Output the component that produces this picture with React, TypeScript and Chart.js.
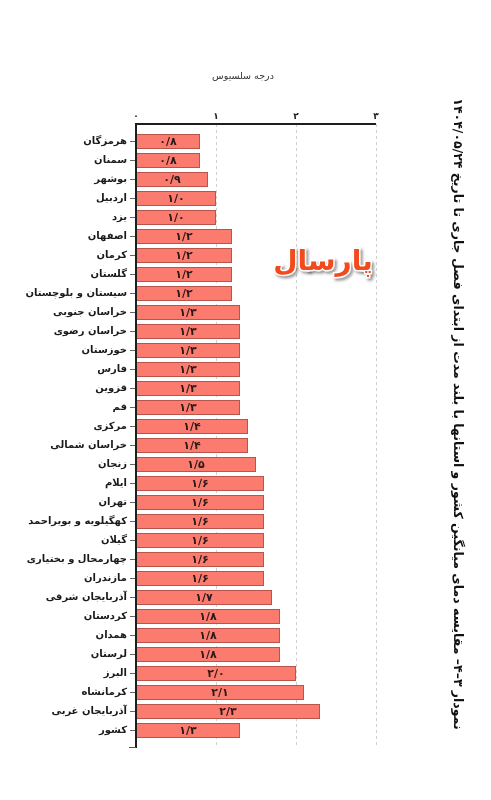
import React, { useEffect, useRef } from "react";
import { Chart, registerables } from "chart.js";
Chart.register(...registerables);

const provinces = [
  "هرمزگان", "سمنان", "بوشهر", "اردبیل", "یزد", "اصفهان", "کرمان", "گلستان",
  "سیستان و بلوچستان", "خراسان جنوبی", "خراسان رضوی", "خوزستان", "فارس", "قزوین", "قم",
  "مرکزی", "خراسان شمالی", "زنجان", "ایلام", "تهران", "کهگیلویه و بویراحمد", "گیلان",
  "چهارمحال و بختیاری", "مازندران", "آذربایجان شرقی", "کردستان", "همدان", "لرستان",
  "البرز", "کرمانشاه", "آذربایجان غربی", "کشور",
];
const values = [
  0.8, 0.8, 0.9, 1.0, 1.0, 1.2, 1.2, 1.2,
  1.2, 1.3, 1.3, 1.3, 1.3, 1.3, 1.3,
  1.4, 1.4, 1.5, 1.6, 1.6, 1.6, 1.6,
  1.6, 1.6, 1.7, 1.8, 1.8, 1.8,
  2.0, 2.1, 2.3, 1.3,
];
const xMin = 0;
const xMax = 3;
const chartTitle =
  "نمودار ۳–۴– مقایسه دمای میانگین کشور و استانها با بلند مدت از ابتدای فصل جاری تا تاریخ ۱۴۰۴/۰۵/۲۴";
const axisTitle = "درجه سلسیوس";
const watermark = "پارسال";

const FA_DIGITS = "۰۱۲۳۴۵۶۷۸۹";
const toFa = (s: string) =>
  s.replace(/[0-9]/g, (d) => FA_DIGITS[+d]).replace(".", "/");

const FONT = '"DejaVu Sans", sans-serif';

const decor = {
  id: "decor",
  beforeDatasetsDraw(chart: any) {
    const { ctx, chartArea, scales } = chart;
    const x = scales.x;
    const top = chartArea.top - 8;
    const bottom = chartArea.bottom + 8;
    ctx.save();
    ctx.strokeStyle = "#cfcfcf";
    ctx.lineWidth = 1;
    ctx.setLineDash([3, 3]);
    for (let v = xMin + 1; v <= xMax; v++) {
      const px = Math.round(x.getPixelForValue(v)) + 0.5;
      ctx.beginPath();
      ctx.moveTo(px, top);
      ctx.lineTo(px, bottom);
      ctx.stroke();
    }
    ctx.restore();
  },
  afterDatasetsDraw(chart: any) {
    const { ctx, chartArea, scales } = chart;
    const x = scales.x;
    const meta = chart.getDatasetMeta(0);
    ctx.save();
    // value labels
    ctx.fillStyle = "#2a1a1a";
    ctx.font = `bold 11px ${FONT}`;
    ctx.textAlign = "center";
    ctx.textBaseline = "middle";
    meta.data.forEach((bar: any, i: number) => {
      const cx = (bar.x + bar.base) / 2;
      ctx.fillText(toFa(values[i].toFixed(1)), cx, bar.y + 1);
    });
    // axes
    const top = chartArea.top - 8;
    const bottom = chartArea.bottom + 8;
    const x0 = x.getPixelForValue(xMin);
    const x3 = x.getPixelForValue(xMax);
    ctx.strokeStyle = "#1e1e1e";
    ctx.lineWidth = 2;
    ctx.beginPath();
    ctx.moveTo(x0, top);
    ctx.lineTo(x3, top);
    ctx.moveTo(x0, top - 1);
    ctx.lineTo(x0, bottom);
    ctx.stroke();
    ctx.lineWidth = 1;
    ctx.strokeStyle = "#555";
    ctx.beginPath();
    ctx.moveTo(x0 - 7, bottom - 0.5);
    ctx.lineTo(x0, bottom - 0.5);
    ctx.stroke();
    // axis title
    ctx.fillStyle = "#333";
    ctx.font = `9.5px ${FONT}`;
    ctx.textAlign = "center";
    ctx.textBaseline = "middle";
    ctx.fillText(axisTitle, 243, 77);
    // chart title (rotated)
    ctx.save();
    ctx.translate(457, 414);
    ctx.rotate(Math.PI / 2);
    ctx.fillStyle = "#111";
    ctx.font = `bold 12.5px ${FONT}`;
    ctx.fillText(chartTitle, 0, 0);
    ctx.restore();
    // watermark
    ctx.save();
    ctx.font = `bold 28px ${FONT}`;
    ctx.textAlign = "center";
    ctx.textBaseline = "middle";
    ctx.shadowColor = "rgba(0,0,0,0.45)";
    ctx.shadowBlur = 3;
    ctx.shadowOffsetX = 2;
    ctx.shadowOffsetY = 2;
    ctx.lineWidth = 3;
    ctx.strokeStyle = "#ffffff";
    ctx.strokeText(watermark, 323, 263);
    ctx.shadowColor = "transparent";
    ctx.fillStyle = "#f24a1c";
    ctx.fillText(watermark, 323, 263);
    ctx.restore();
    ctx.restore();
  },
};

export default function App() {
  const ref = useRef<HTMLCanvasElement>(null);
  useEffect(() => {
    if (!ref.current) return;
    const chart = new Chart(ref.current, {
      type: "bar",
      data: {
        labels: provinces,
        datasets: [
          {
            data: values,
            backgroundColor: "#fb7b6e",
            borderColor: "#b8544a",
            borderWidth: 1,
            barPercentage: 0.78,
            categoryPercentage: 1,
          },
        ],
      },
      options: {
        indexAxis: "y",
        animation: false,
        responsive: false,
        devicePixelRatio: 1,
        layout: { padding: { left: 0, right: 115, top: 0, bottom: 60 } },
        plugins: { legend: { display: false }, tooltip: { enabled: false } },
        scales: {
          x: {
            position: "top",
            min: xMin,
            max: xMax,
            ticks: {
              stepSize: 1,
              padding: 10,
              color: "#222",
              font: { size: 9, weight: "bold", family: FONT },
              callback: (v: any) => toFa(String(v)),
            },
            grid: { display: false, drawTicks: false },
            border: { display: false },
            afterFit: (s: any) => {
              s.height = 132;
            },
          },
          y: {
            ticks: {
              padding: 3,
              color: "#1a1a1a",
              font: { size: 10, weight: "bold", family: FONT },
              autoSkip: false,
            },
            grid: {
              display: true,
              drawOnChartArea: false,
              drawTicks: true,
              tickLength: 6,
              offset: false,
              color: "#666",
            },
            border: { display: false },
            afterFit: (s: any) => {
              s.width = 136;
            },
          },
        },
      },
      plugins: [decor],
    });
    return () => chart.destroy();
  }, []);
  return (
    <div style={{ position: "absolute", left: 0, top: 0, width: 491, height: 800, background: "#fff" }}>
      <canvas ref={ref} width={491} height={800} />
    </div>
  );
}
